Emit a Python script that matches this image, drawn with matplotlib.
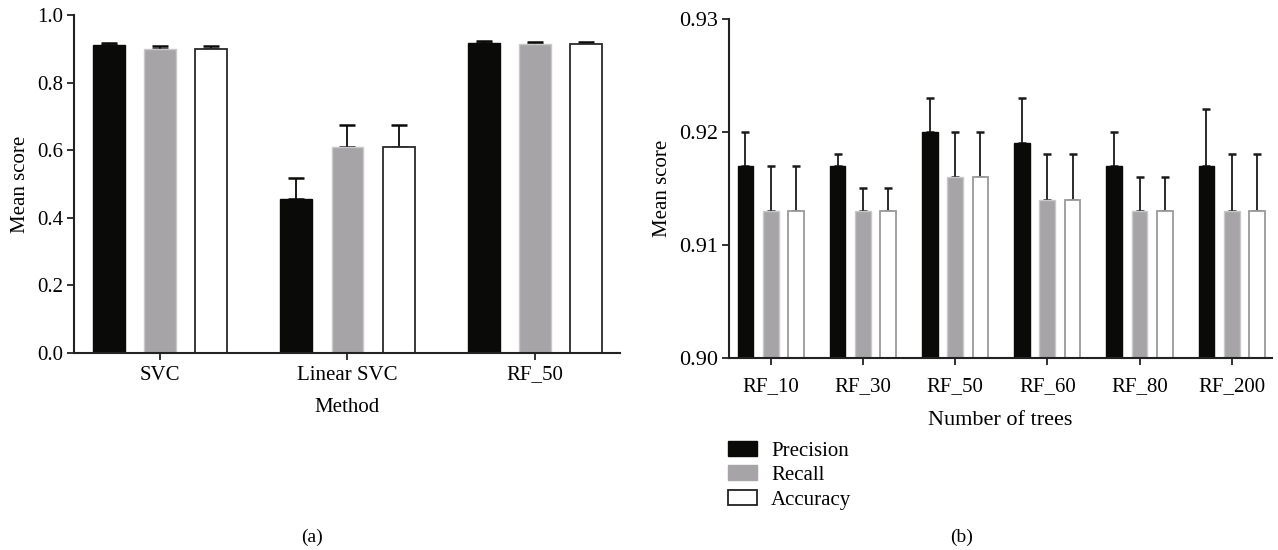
import matplotlib
matplotlib.use("Agg")
import matplotlib.pyplot as plt
import numpy as np
from matplotlib.patches import Patch

plt.rcParams['font.family'] = ['Liberation Serif', 'DejaVu Serif']

# Panel (a)
methods = ["SVC", "Linear SVC", "RF_50"]
a_precision = [0.910, 0.456, 0.918]
a_recall = [0.900, 0.608, 0.915]
a_accuracy = [0.900, 0.608, 0.915]
a_precision_err = [0.006, 0.062, 0.006]
a_recall_err = [0.007, 0.067, 0.005]
a_accuracy_err = [0.007, 0.067, 0.005]

# Panel (b)
trees = ["RF_10", "RF_30", "RF_50", "RF_60", "RF_80", "RF_200"]
b_precision = [0.917, 0.917, 0.920, 0.919, 0.917, 0.917]
b_recall = [0.913, 0.913, 0.916, 0.914, 0.913, 0.913]
b_accuracy = [0.913, 0.913, 0.916, 0.914, 0.913, 0.913]
b_precision_err = [0.003, 0.001, 0.003, 0.004, 0.003, 0.005]
b_recall_err = [0.004, 0.002, 0.004, 0.004, 0.003, 0.005]
b_accuracy_err = [0.004, 0.002, 0.004, 0.004, 0.003, 0.005]

series_names = ["Precision", "Recall", "Accuracy"]

BLACK = "#0a0a08"
GREY = "#a6a4a7"

W, H = 1278, 550
fig = plt.figure(figsize=(W / 100, H / 100), dpi=100)

axA = fig.add_axes([74 / W, 1 - 353 / H, (620 - 74) / W, (353 - 15) / H])
axB = fig.add_axes([729 / W, 1 - 357.7 / H, (1272 - 729) / W, (357.7 - 18.7) / H])

FS = 15


def draw(ax, cats, vals, errs, width, off, caps, white_edge, err_color, ymin, pad):
    x = np.arange(len(cats))
    styles = [
        dict(color=BLACK, edgecolor=BLACK, linewidth=1.0),
        dict(color=GREY, edgecolor="#c8c8c8", linewidth=1.0),
        dict(color="white", edgecolor=white_edge, linewidth=1.3),
    ]
    for i, (v, e, st) in enumerate(zip(vals, errs, styles)):
        pos = x + (i - 1) * off
        ax.bar(pos, np.array(v) - ymin, width=width, bottom=ymin, zorder=2, **st)
        ax.errorbar(pos, v, yerr=[np.zeros(len(v)), e], fmt="none",
                    ecolor=err_color, elinewidth=1.3, capsize=caps,
                    capthick=1.8, zorder=1)
    ax.set_xticks(x)
    ax.set_xticklabels(cats, fontsize=FS)
    for s in ["top", "right"]:
        ax.spines[s].set_visible(False)
    for s in ["left", "bottom"]:
        ax.spines[s].set_linewidth(1.5)
        ax.spines[s].set_color("#222222")
    ax.tick_params(axis="both", direction="out", length=5, width=1.3,
                   color="#222222", labelsize=FS, pad=3)
    ax.tick_params(axis="x", pad=pad)


draw(axA, methods, [a_precision, a_recall, a_accuracy],
     [a_precision_err, a_recall_err, a_accuracy_err],
     width=0.17, off=0.273, caps=6, white_edge="#2a2a2a",
     err_color=BLACK, ymin=0.0, pad=4)
axA.set_xlim(-0.46, 2.455)
axA.set_ylim(0.0, 1.0)
axA.set_yticks([0.0, 0.2, 0.4, 0.6, 0.8, 1.0])
axA.set_yticklabels([f"{v:.1f}" for v in [0.0, 0.2, 0.4, 0.6, 0.8, 1.0]])
axA.set_ylabel("Mean score", fontsize=FS, labelpad=5)
axA.set_xlabel("Method", fontsize=FS, labelpad=10)

draw(axB, trees, [b_precision, b_recall, b_accuracy],
     [b_precision_err, b_recall_err, b_accuracy_err],
     width=0.17, off=0.274, caps=3.2, white_edge="#9a9a9a",
     err_color="#1a1a1a", ymin=0.90, pad=9)
axB.set_xlim(-0.452, 5.437)
axB.set_ylim(0.90, 0.93)
axB.set_yticks([0.90, 0.91, 0.92, 0.93])
axB.set_yticklabels([f"{v:.2f}" for v in [0.90, 0.91, 0.92, 0.93]])
axB.tick_params(axis="y", labelsize=16)
axB.set_ylabel("Mean score", fontsize=FS, labelpad=5)
axB.set_xlabel("Number of trees", fontsize=16, labelpad=11)

handles = [
    Patch(facecolor=BLACK, edgecolor=BLACK),
    Patch(facecolor=GREY, edgecolor=GREY),
    Patch(facecolor="white", edgecolor="#222222", linewidth=1.3),
]
fig.legend(handles, series_names, loc="upper left",
           bbox_to_anchor=(728 / W, 1 - 441 / H), frameon=False,
           fontsize=FS, handlelength=1.4, handleheight=0.72,
           labelspacing=0.23, handletextpad=0.67, borderaxespad=0,
           borderpad=0)

fig.text(312 / W, 1 - 537 / H, "(a)", ha="center", va="center", fontsize=14)
fig.text(962 / W, 1 - 537 / H, "(b)", ha="center", va="center", fontsize=14)

fig.savefig("out.png", dpi=100)
